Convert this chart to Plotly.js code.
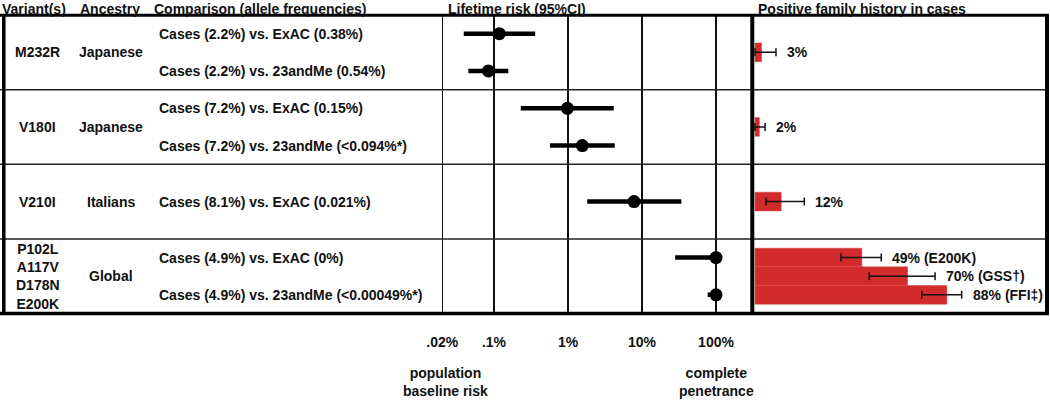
<!DOCTYPE html>
<html>
<head>
<meta charset="utf-8">
<script src="https://cdn.plot.ly/plotly-3.0.1.min.js"></script>
<style>html,body{margin:0;padding:0;background:#fff;}#chart{width:1050px;height:400px;}</style>
</head>
<body>
<div id="chart"></div>
<script>
// ---------- data ----------
const headers = ['Variant(s)', 'Ancestry', 'Comparison (allele frequencies)', 'Lifetime risk (95%CI)', 'Positive family history in cases'];
const variants = ['M232R', 'V180I', 'V210I', 'P102L<br>A117V<br>D178N<br>E200K'];
const ancestry = ['Japanese', 'Japanese', 'Italians', 'Global'];
const comparisons = [
  'Cases (2.2%) vs. ExAC (0.38%)',
  'Cases (2.2%) vs. 23andMe (0.54%)',
  'Cases (7.2%) vs. ExAC (0.15%)',
  'Cases (7.2%) vs. 23andMe (<0.094%*)',
  'Cases (8.1%) vs. ExAC (0.021%)',
  'Cases (4.9%) vs. ExAC (0%)',
  'Cases (4.9%) vs. 23andMe (<0.00049%*)'
];
const comparisonGroup = [0, 0, 1, 1, 2, 3, 3];
const riskPoint = [0.118, 0.084, 0.98, 1.56, 7.8, 100, 100];   // lifetime risk, %
const riskLow   = [0.039, 0.045, 0.23, 0.57, 1.82, 28, 77];
const riskHigh  = [0.36, 0.156, 4.15, 4.28, 34, 100, 100];
const riskTickVals = [0.02, 0.1, 1, 10, 100];
const riskTickText = ['.02%', '.1%', '1%', '10%', '100%'];
const famGroup  = [0, 1, 2, 3, 3, 3];
const famValue  = [3, 2, 12, 49, 70, 88];        // positive family history, %
const famLow    = [0, 0, 5, 39.4, 52.4, 76.5];
const famHigh   = [9.6, 4.6, 22.6, 57.9, 82.6, 94.8];
const famLabels = ['3%', '2%', '12%', '49% (E200K)', '70% (GSS\u2020)', '88% (FFI\u2021)'];

// ---------- layout helpers ----------
const W = 1050, H = 400;
const px = v => v / W;
const py = v => 1 - v / H;
const SLOTS = 2;
const FONT = 'Liberation Sans, Arial, Helvetica, sans-serif';
const TXT = '#111';

function positions(groupArr, step) {
  const out = [];
  groupArr.forEach((g, i) => {
    const members = groupArr.map((gg, j) => gg === g ? j : -1).filter(j => j >= 0);
    const n = members.length, k = members.indexOf(i);
    const center = g * SLOTS + SLOTS / 2;
    out.push(step === null ? g * SLOTS + (SLOTS / n) * (k + 0.5) : center + (k - (n - 1) / 2) * step);
  });
  return out;
}
const rowY = positions(comparisonGroup, null);
const barY = positions(famGroup, 0.5);

const traces = [
  {
    type: 'bar', orientation: 'h', xaxis: 'x2', yaxis: 'y',
    x: famValue, y: barY, width: 0.5,
    marker: {color: '#d12b2b', line: {color: '#d84040', width: 0.5}},
    error_x: {type: 'data', symmetric: false,
      array: famHigh.map((h, i) => h - famValue[i]),
      arrayminus: famValue.map((v, i) => v - famLow[i]),
      color: '#111', thickness: 1.5, width: 4},
    hoverinfo: 'skip'
  },
  {
    type: 'scatter', mode: 'markers', xaxis: 'x', yaxis: 'y',
    x: riskPoint, y: rowY,
    marker: {color: '#000', size: 13},
    error_x: {type: 'data', symmetric: false,
      array: riskHigh.map((h, i) => h - riskPoint[i]),
      arrayminus: riskPoint.map((p, i) => p - riskLow[i]),
      color: '#000', thickness: 4.5, width: 0},
    hoverinfo: 'skip'
  }
];

const annotations = [];
const headerX = [1, 79, 152.7, 446.7, 757.3];
headers.forEach((h, i) => annotations.push({
  xref: 'paper', yref: 'paper', x: px(headerX[i]), y: py(0), xanchor: 'left', yanchor: 'top', borderpad: 0,
  text: h, showarrow: false, font: {family: FONT, size: 14, weight: 'bold', color: TXT}
}));
variants.forEach((v, g) => {
  annotations.push({xref: 'paper', yref: 'y', x: px(37.5), y: g * SLOTS + SLOTS / 2, xanchor: 'center', yanchor: 'middle',
    text: v, showarrow: false, font: {family: FONT, size: 14, weight: 'bold', color: TXT}});
  annotations.push({xref: 'paper', yref: 'y', x: px(111), y: g * SLOTS + SLOTS / 2, xanchor: 'center', yanchor: 'middle',
    text: ancestry[g], showarrow: false, font: {family: FONT, size: 14, weight: 'bold', color: TXT}});
});
comparisons.forEach((c, i) => annotations.push({
  xref: 'paper', yref: 'y', x: px(157), y: rowY[i], xanchor: 'left', yanchor: 'middle',
  text: c.replace(/</g, '&lt;'), showarrow: false, font: {family: FONT, size: 14, weight: 'bold', color: TXT}
}));
famLabels.forEach((l, i) => annotations.push({
  xref: 'x2', yref: 'y', x: famHigh[i], y: barY[i], xanchor: 'left', yanchor: 'middle', xshift: 9,
  text: l, showarrow: false, font: {family: FONT, size: 14, weight: 'bold', color: TXT}
}));
annotations.push({xref: 'x', yref: 'paper', x: Math.log10(riskTickVals[0]), y: py(382), xanchor: 'center', yanchor: 'middle', xshift: 3,
  text: 'population<br>baseline risk', showarrow: false, font: {family: FONT, size: 14, weight: 'bold', color: TXT}});
annotations.push({xref: 'x', yref: 'paper', x: Math.log10(riskTickVals[4]), y: py(382), xanchor: 'center', yanchor: 'middle',
  text: 'complete<br>penetrance', showarrow: false, font: {family: FONT, size: 14, weight: 'bold', color: TXT}});

const shapes = [];
// row separators
for (let g = 1; g < variants.length; g++) {
  shapes.push({type: 'line', xref: 'paper', yref: 'y', x0: 0, x1: px(1046), y0: g * SLOTS, y1: g * SLOTS,
    line: {color: '#222', width: 1.5}});
}
// frame
const frame = [
  [0, 15.3, 1049, 15.3, 3],
  [0, 313.5, 1049, 313.5, 3.5],
  [3.8, 15, 3.8, 315, 3.5],
  [1047, 14, 1047, 315, 4],
  [752.3, 14, 752.3, 315, 4]
];
frame.forEach(f => shapes.push({type: 'line', xref: 'paper', yref: 'paper',
  x0: px(f[0]), y0: py(f[1]), x1: px(f[2]), y1: py(f[3]), line: {color: '#000', width: f[4]}}));

const layout = {
  width: W, height: H, margin: {l: 0, r: 0, t: 0, b: 0},
  paper_bgcolor: '#fff', plot_bgcolor: 'rgba(0,0,0,0)', showlegend: false,
  xaxis: {type: 'log', domain: [px(420), px(752)], range: [-2, 2.486], anchor: 'y',
    tickvals: riskTickVals, ticktext: riskTickText, ticks: '', ticklabelstandoff: 18,
    tickfont: {family: FONT, size: 14, weight: 'bold', color: TXT},
    showgrid: true, gridcolor: '#111', gridwidth: 1.5, zeroline: false, showline: false, fixedrange: true},
  xaxis2: {domain: [px(752), px(1046)], range: [-1.4, 133.5], anchor: 'y',
    showgrid: false, showticklabels: false, zeroline: false, showline: false, ticks: '', fixedrange: true},
  yaxis: {domain: [py(313.5), py(15)], range: [variants.length * SLOTS, 0],
    showgrid: false, showticklabels: false, zeroline: false, showline: false, ticks: '', fixedrange: true},
  annotations: annotations, shapes: shapes,
  bargap: 0
};

Plotly.newPlot('chart', traces, layout, {displayModeBar: false, staticPlot: true});
</script>
</body>
</html>
